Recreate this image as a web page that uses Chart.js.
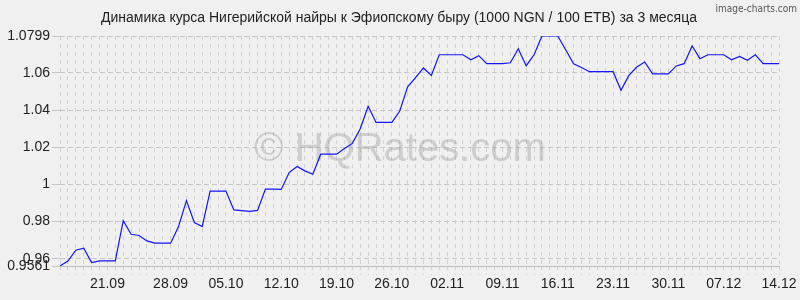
<!DOCTYPE html>
<html>
<head>
<meta charset="utf-8">
<script src="https://cdn.jsdelivr.net/npm/chart.js@4/dist/chart.umd.min.js"></script>
<style>
  html, body { margin: 0; padding: 0; background: #f0f0f0; }
  #wrap { width: 800px; height: 300px; }
</style>
</head>
<body>
<div id="wrap"><canvas id="myChart" width="800" height="300"></canvas></div>
<script>
// daily rate, 1000 NGN in ETB (per 100), 14.09 .. 14.12
let rates = [
  0.9561, 0.9588, 0.9646, 0.9657, 0.9579, 0.9589, 0.9589, 0.9589, 0.9805, 0.9732,
  0.9725, 0.9696, 0.9684, 0.9684, 0.9684, 0.9773, 0.9913, 0.9795, 0.9773, 0.9964,
  0.9964, 0.9964, 0.9863, 0.9859, 0.9855, 0.9860, 0.9975, 0.9975, 0.9973, 1.0064,
  1.0097, 1.0073, 1.0055, 1.0163, 1.0163, 1.0163, 1.0193, 1.0221, 1.0300, 1.0421,
  1.0334, 1.0334, 1.0334, 1.0395, 1.0525, 1.0575, 1.0627, 1.0587, 1.0698, 1.0698,
  1.0698, 1.0698, 1.0671, 1.0693, 1.0650, 1.0650, 1.0650, 1.0655, 1.0730, 1.0639,
  1.0698, 1.0799, 1.0799, 1.0799, 1.0725, 1.0650, 1.0629, 1.0607, 1.0607, 1.0607,
  1.0607, 1.0507, 1.0587, 1.0632, 1.0659, 1.0595, 1.0595, 1.0595, 1.0638, 1.0650,
  1.0745, 1.0677, 1.0698, 1.0698, 1.0698, 1.0671, 1.0689, 1.0668, 1.0698, 1.0650,
  1.0650, 1.0650
];

let tickLabels = ['21.09', '28.09', '05.10', '12.10', '19.10', '26.10', '02.11', '09.11', '16.11', '23.11', '30.11', '07.12', '14.12'];
let tickAt = [6, 14, 21, 28, 35, 42, 49, 56, 63, 70, 77, 84, 91];

let yTicks = [0.9561, 0.96, 0.98, 1, 1.02, 1.04, 1.06, 1.0799];

let title = 'Динамика курса Нигерийской найры к Эфиопскому быру (1000 NGN / 100 ETB) за 3 месяца';

let labels = rates.map(() => '');
for (let i = 0; i < tickAt.length; i++) {
    labels[tickAt[i]] = tickLabels[i];
}

const FONT = "'Liberation Sans', Arial, sans-serif";

const background = {
    id: 'background',
    beforeDraw(chart) {
        const c = chart.ctx;
        c.save();
        c.fillStyle = '#f0f0f0';
        c.fillRect(0, 0, chart.width, chart.height);
        c.restore();
    }
};

// title centred on the whole canvas, plus the two watermarks
const texts = {
    id: 'texts',
    beforeDatasetsDraw(chart) {
        const c = chart.ctx;
        c.save();
        c.font = '40px ' + FONT;
        c.fillStyle = 'rgba(150,150,150,0.38)';
        c.textAlign = 'center';
        c.textBaseline = 'middle';
        c.fillText('© HQRates.com', chart.width / 2, 150);
        c.restore();
    },
    afterDraw(chart) {
        const c = chart.ctx;
        c.save();
        c.font = '14px ' + FONT;
        c.fillStyle = '#222';
        c.textAlign = 'center';
        c.textBaseline = 'middle';
        c.fillText(title, chart.width / 2 - 1, 18);

        c.font = "10px 'Liberation Sans Narrow', 'DejaVu Sans Condensed', sans-serif";
        c.fillStyle = '#555';
        c.textAlign = 'right';
        c.fillText('image-charts.com', 797, 9);
        c.restore();
    }
};

const ctx = document.getElementById('myChart');

new Chart(ctx, {
    type: 'line',
    data: {
        labels: labels,
        datasets: [{
            data: rates,
            borderColor: '#1414ff',
            borderWidth: 1.2,
            pointRadius: 0,
            tension: 0,
            fill: false
        }]
    },
    options: {
        responsive: false,
        animation: false,
        layout: { padding: { left: 0, right: 21, top: 36, bottom: 0 } },
        plugins: {
            legend: { display: false },
            tooltip: { enabled: false },
            title: { display: false }
        },
        scales: {
            x: {
                type: 'category',
                offset: false,
                afterFit: (scale) => { scale.height = 34; },
                grid: {
                    color: '#d2d2d2',
                    tickBorderDash: [4, 4],
                    tickBorderDashOffset: 1,
                    tickLength: 9,
                    drawTicks: true
                },
                border: { display: true, color: '#bcbcbc', dash: [4, 4] },
                ticks: {
                    autoSkip: false,
                    maxRotation: 0,
                    minRotation: 0,
                    padding: 1,
                    color: '#222',
                    font: { family: FONT, size: 14 },
                    callback: (v, i) => labels[i]
                }
            },
            y: {
                type: 'linear',
                min: 0.9561,
                max: 1.0799,
                afterFit: (scale) => { scale.width = 60; },
                afterBuildTicks: (axis) => {
                    axis.ticks = yTicks.map(v => ({ value: v }));
                },
                grid: {
                    color: '#c6c6c6',
                    tickBorderDash: [],
                    tickLength: 8
                },
                border: { display: false, dash: [5, 3] },
                ticks: {
                    padding: 2,
                    color: '#222',
                    font: { family: FONT, size: 14 },
                    callback: (v) => String(v)
                }
            }
        }
    },
    plugins: [background, texts]
});
</script>
</body>
</html>
